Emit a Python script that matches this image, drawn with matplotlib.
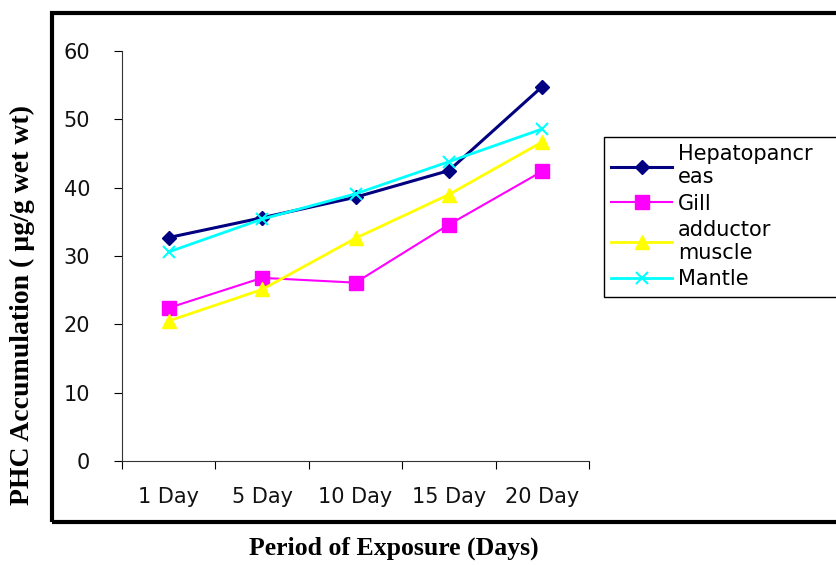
import matplotlib
matplotlib.use("Agg")
import matplotlib.pyplot as plt
from matplotlib.patches import Rectangle

# data
days = ["1 Day", "5 Day", "10 Day", "15 Day", "20 Day"]
hepatopancreas = [32.7, 35.6, 38.6, 42.5, 54.8]
gill = [22.4, 26.8, 26.1, 34.6, 42.4]
adductor = [20.5, 25.1, 32.6, 39.0, 46.7]
mantle = [30.6, 35.4, 39.1, 43.8, 48.6]

labels = ["Hepatopancr\neas", "Gill", "adductor\nmuscle", "Mantle"]

W, H = 836, 565
fig = plt.figure(figsize=(W / 100, H / 100), dpi=100)
ax = fig.add_axes([122 / W, 1 - 461 / H, (589 - 122) / W, (461 - 51) / H])

x = range(len(days))
ax.plot(x, hepatopancreas, color="#000080", marker="D", markersize=7, lw=2.2, label=labels[0])
ax.plot(x, gill, color="#FF00FF", marker="s", markersize=10, lw=1.5, label=labels[1])
ax.plot(x, adductor, color="#FFFF00", marker="^", markersize=10, lw=2, label=labels[2])
ax.plot(x, mantle, color="#00FFFF", marker="x", markersize=8, mew=1.5, lw=2, label=labels[3])

ax.set_xlim(-0.5, len(days) - 0.5)
ax.set_ylim(0, 60)
ax.set_yticks(range(0, 61, 10))
ax.set_xticks([i - 0.5 for i in range(len(days) + 1)], minor=False)
ax.set_xticklabels([])
ax.set_xticks(list(x), minor=True)
ax.set_xticklabels(days, minor=True)
ax.tick_params(axis="x", which="minor", length=0, pad=19)
ax.tick_params(axis="x", which="major", length=6, direction="out")
ax.tick_params(axis="y", length=6, direction="out", pad=17)
for lab in ax.get_xticklabels(minor=True) + ax.get_yticklabels():
    lab.set_fontfamily("DejaVu Sans")
    lab.set_fontsize(15)
    lab.set_color("#111111")
ax.spines["top"].set_visible(False)
ax.spines["right"].set_visible(False)
for s in ("left", "bottom"):
    ax.spines[s].set_color("#333333")

leg = ax.legend(loc="upper left", bbox_to_anchor=(604 / W, 1 - 302 / H, 0.3, 165 / H),
                bbox_transform=fig.transFigure, mode="expand", fancybox=False,
                framealpha=1, edgecolor="black", handlelength=2.9, handletextpad=0.3,
                labelspacing=0.3, borderaxespad=0, borderpad=0.35,
                prop={"family": "DejaVu Sans", "size": 15})
leg.get_frame().set_linewidth(1)

# outer frame around the plotting area
fig.add_artist(Rectangle((52 / W, 1 - 522 / H), (W + 10 - 52) / W, (522 - 13) / H,
                         transform=fig.transFigure, fill=False, lw=3, ec="black"))

fig.text(22 / W, 1 - 305 / H, "PHC Accumulation ( µg/g wet wt)", rotation=90,
         ha="center", va="center", family="Liberation Serif", weight="bold", fontsize=20)
fig.text(394 / W, 1 - 548 / H, "Period of Exposure (Days)", ha="center", va="center",
         family="Liberation Serif", weight="bold", fontsize=18.5)

fig.savefig("out.png", dpi=100)
